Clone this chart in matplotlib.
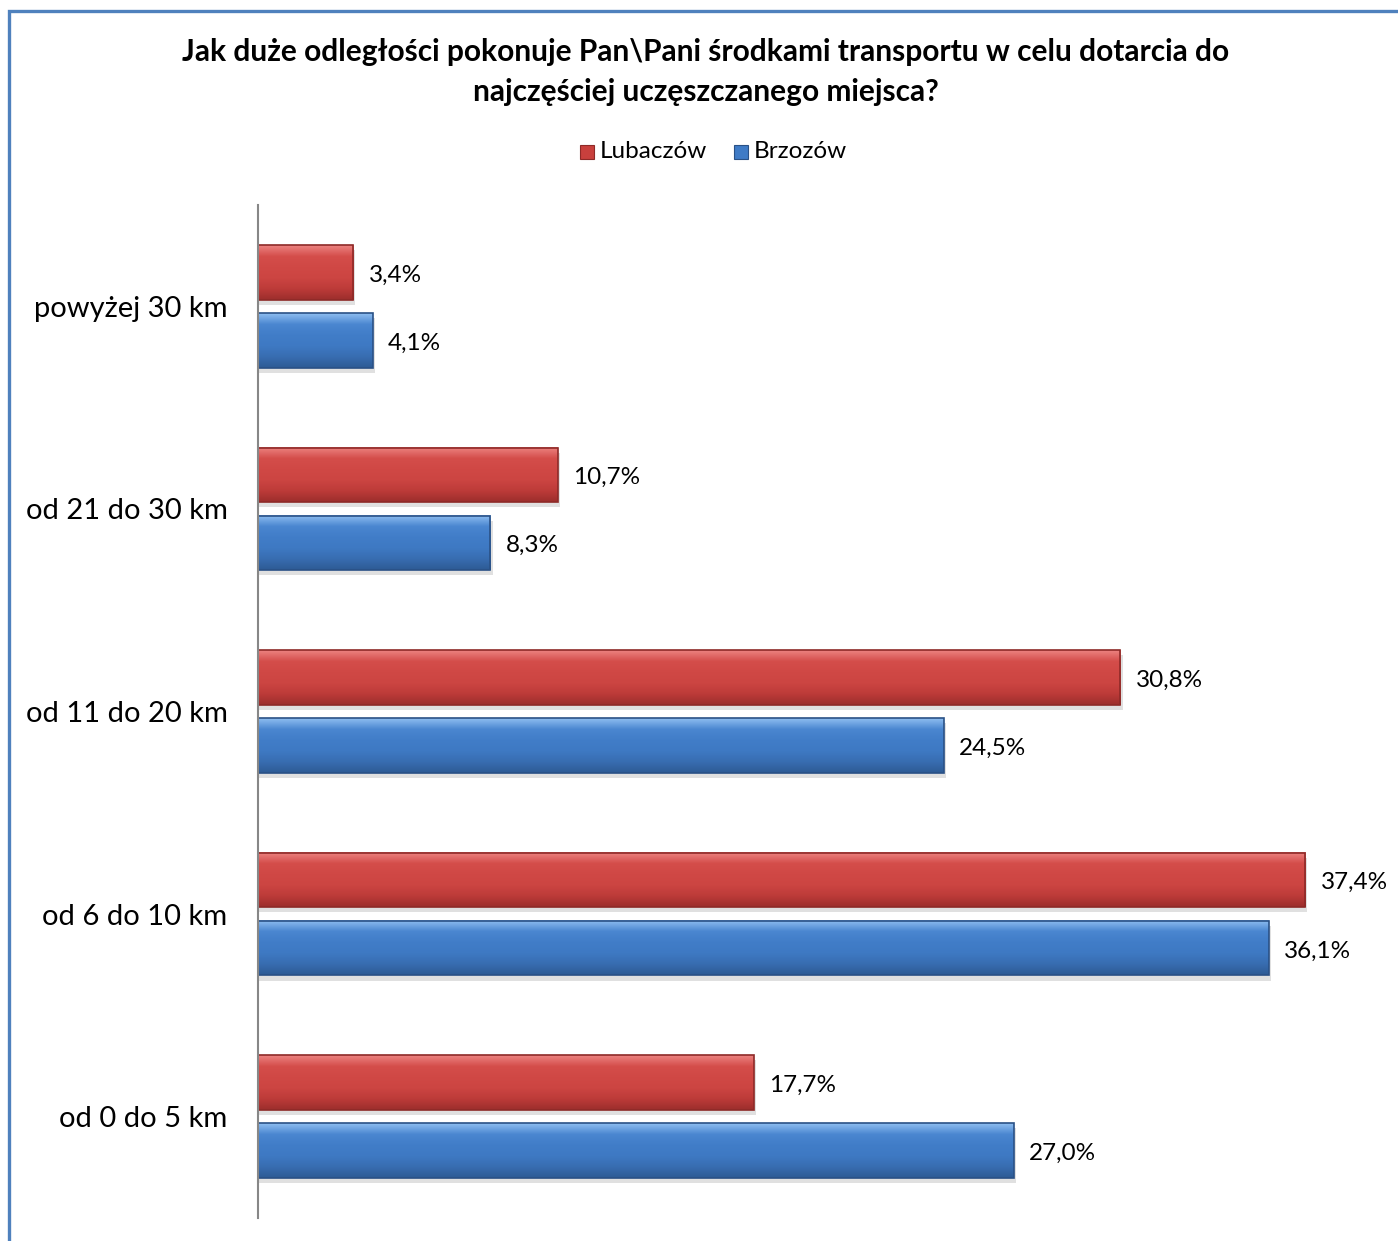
import numpy as np
import matplotlib
matplotlib.use("Agg")
from matplotlib import pyplot as plt
from matplotlib.colors import LinearSegmentedColormap
from matplotlib.patches import Rectangle

plt.rcParams['font.family'] = ['Lato', 'DejaVu Sans']

categories = ["od 0 do 5 km", "od 6 do 10 km", "od 11 do 20 km", "od 21 do 30 km", "powyżej 30 km"]
lubaczow = [17.7, 37.4, 30.8, 10.7, 3.4]
brzozow = [27.0, 36.1, 24.5, 8.3, 4.1]
series_names = ["Lubaczów", "Brzozów"]
title = "Jak duże odległości pokonuje Pan\\Pani środkami transportu w celu dotarcia do\nnajczęściej uczęszczanego miejsca?"

red_grad = LinearSegmentedColormap.from_list("r", ["#9c2e2c", "#bd3b39", "#cc4542", "#d04845", "#d44d4a", "#ec8280"])
blue_grad = LinearSegmentedColormap.from_list("b", ["#2d5b95", "#386db1", "#3e79c3", "#417dc8", "#4a86d0", "#8dbdf0"])

fig = plt.figure(figsize=(13.98, 12.41), dpi=100)
ax = fig.add_axes([258 / 1398, 1 - 1218 / 1241, 1120 / 1398, 1013 / 1241])

y = np.arange(len(categories))
h = 0.27
off = 0.168

def shaded(bars, cmap):
    grad = np.linspace(0, 1, 64).reshape(-1, 1)
    for b in bars:
        x0, y0 = b.get_x(), b.get_y()
        w, hh = b.get_width(), b.get_height()
        # soft shadow under the bar
        ax.add_patch(Rectangle((x0, y0 - 0.025), w + 0.08, hh, facecolor="#000000",
                               alpha=0.12, edgecolor="none", zorder=1))
        ax.imshow(grad, cmap=cmap, aspect="auto", origin="lower",
                  extent=(x0, x0 + w, y0, y0 + hh), zorder=3, interpolation="bicubic")
        b.set_zorder(4)

rb = ax.barh(y + off, lubaczow, height=h, facecolor="none", edgecolor="#8e2a28", linewidth=1.2)
bb = ax.barh(y - off, brzozow, height=h, facecolor="none", edgecolor="#2a5186", linewidth=1.2)
shaded(rb, red_grad)
shaded(bb, blue_grad)

for i in range(len(categories)):
    ax.annotate(f"{lubaczow[i]:.1f}%".replace(".", ","), (lubaczow[i], y[i] + off),
                xytext=(11, -2), textcoords="offset points", va="center", ha="left", fontsize=17.5)
    ax.annotate(f"{brzozow[i]:.1f}%".replace(".", ","), (brzozow[i], y[i] - off),
                xytext=(11, -2), textcoords="offset points", va="center", ha="left", fontsize=17.5)

ax.set_xlim(0, 40)
ax.set_ylim(-0.5, 4.5)
ax.set_yticks(y)
ax.set_yticklabels(categories, fontsize=21)
ax.tick_params(axis="y", length=0, pad=22)
ax.set_xticks([])
for s in ["top", "right", "bottom"]:
    ax.spines[s].set_visible(False)
ax.spines["left"].set_color("#878787")
ax.spines["left"].set_linewidth(1.5)
ax.spines["left"].set_zorder(6)

fig.text(706 / 1398, 1 - 72 / 1241, title, ha="center", va="center",
         fontsize=21.5, fontweight="bold", linespacing=1.5)

# legend
ax_leg_y = 1 - 152 / 1241
fig.patches.append(Rectangle((580 / 1398, ax_leg_y - 7 / 1241), 14 / 1398, 14 / 1241,
                             transform=fig.transFigure, facecolor="#c9403d", edgecolor="#8e2a28", lw=0.8))
fig.text(600 / 1398, ax_leg_y, series_names[0], ha="left", va="center", fontsize=17.5)
fig.patches.append(Rectangle((734 / 1398, ax_leg_y - 7 / 1241), 14 / 1398, 14 / 1241,
                             transform=fig.transFigure, facecolor="#3f7bc6", edgecolor="#2a5186", lw=0.8))
fig.text(754 / 1398, ax_leg_y, series_names[1], ha="left", va="center", fontsize=17.5)

# chart frame (cut at right and bottom)
fig.patches.append(Rectangle((8.5 / 1398, -0.05), 1.1, 1.05 - 11 / 1241, transform=fig.transFigure,
                             facecolor="none", edgecolor="#4f81bd", lw=2.4))

fig.savefig("out.png", dpi=100)
